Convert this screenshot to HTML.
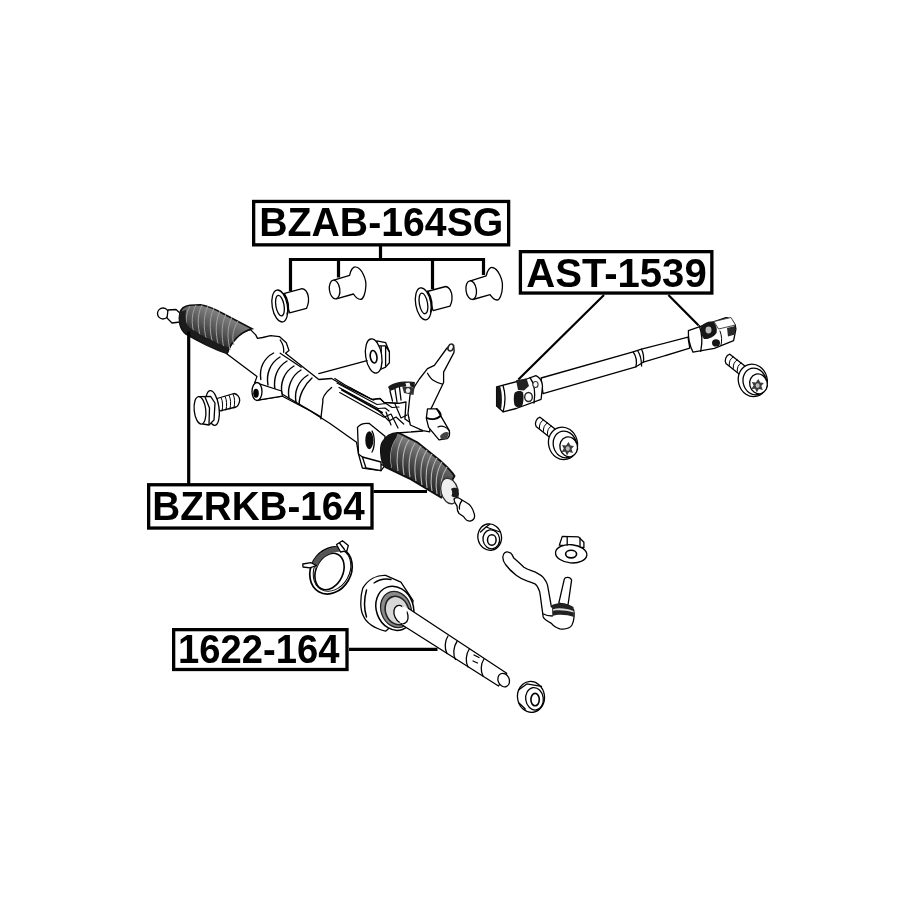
<!DOCTYPE html>
<html><head><meta charset="utf-8">
<style>
html,body{margin:0;padding:0;background:#fff;width:915px;height:915px;overflow:hidden}
svg{display:block}
.t{font-family:"Liberation Sans",sans-serif;font-weight:bold;font-size:41px;fill:#000}
.bx{fill:#fff;stroke:#000;stroke-width:3.3}
.ld{fill:none;stroke:#000;stroke-width:3.2}
.ln{fill:none;stroke:#000;stroke-width:2.2}
.o{fill:#fff;stroke:#000;stroke-width:1.3;stroke-linejoin:round;stroke-linecap:round}
.n{fill:none;stroke:#000;stroke-width:1.3;stroke-linejoin:round;stroke-linecap:round}
.g{fill:none;stroke:#000;stroke-width:1;stroke-linecap:round}
.dk{fill:#333;stroke:#000;stroke-width:1.5}
</style></head>
<body>
<svg width="915" height="915" viewBox="0 0 915 915">
<!-- PARTS -->
<defs><filter id="soft" x="-5%" y="-5%" width="110%" height="110%"><feGaussianBlur stdDeviation="0.35"/></filter></defs>
<g id="parts" filter="url(#soft)">
<!-- bushings -->
<defs>
 <g id="bf">
  <path class="o" d="M3.8,-12.3 L22.4,-17.3 C28,-16 31,-7 26.7,2.4 L9.8,6.8 Z"/>
  <ellipse class="o" cx="0" cy="0" rx="7.6" ry="16.2" transform="rotate(-10)"/>
  <path class="n" d="M4.5,-12 C8.5,-6 9.5,2 7.5,8" style="stroke-width:1.8"/>
  <ellipse class="n" cx="0.2" cy="-0.3" rx="4.1" ry="10.4" transform="rotate(-10)"/>
 </g>
 <g id="bb">
  <path class="o" d="M-0.7,-9.3 L15,-14.2 C16,-20 19,-23 21,-22.6 C27,-22 32,-10 31.2,-2.9 C31,4 28.5,10 25.8,9.9 C23,9.8 20.5,7 18.9,4.5 L1.7,9.4 Z"/>
  <ellipse class="o" cx="0" cy="0" rx="5.2" ry="9.4" transform="rotate(-8)"/>
 </g>
</defs>
<use href="#bf" x="279.8" y="306"/>
<use href="#bb" x="334.6" y="289.5"/>
<use href="#bf" x="423.3" y="303.8"/>
<use href="#bb" x="471.2" y="290.1"/>

<!-- RACK -->
<!-- left tip -->
<ellipse class="o" cx="163" cy="313.5" rx="5.5" ry="5.5"/>
<path class="o" d="M168,310 L176,309.5 L181,314 L180,322 L172,323 L167,318 Z"/>
<!-- housing main white body -->
<path class="o" d="M250.5,329.6 L255.7,334.9 L257.5,338.4 L262.7,337.5 L270.6,335.7 L279.3,336.6 L286.3,342.7 L289,350.6 L285.5,353.2 L318.8,379.5 L331.6,378.5 L346.7,387.2 L372.2,399.5 L380,398.5 L384,402.4 L398.7,403.4 L406,402 L404.9,419 L422.9,431 L397,433 L384.6,440.7 L382.3,454.4 L384.6,465.9 L381,470.7 L362.4,468 L358.5,454 L356.5,442.2 L330,423.5 L310,410.8 L282.4,396.2 L257.9,400.1 L254.9,382.4 L257,376.4 L227,354 C231,342 240,332 250.5,329.6 Z"/>
<!-- left boot -->
<path d="M180,313 C181,308 184,306 190,305.3 L200.5,304.8 C208,306.3 215,309 222,313 L252,328.7 C240,332 231,342 227,353.5 C214,349 198,341 186,334 C179,329 178.5,319 180,313 Z" fill="url(#gbL)" stroke="#111" stroke-width="1.6"/>
<g style="stroke:#a0a0a0;stroke-width:1;fill:none">
 <path d="M190,306 C184,316 186,328 190,335"/>
 <path d="M196,305 C190,316 192,330 196,338"/>
 <path d="M202,305 C196,316 198,332 202,341"/>
 <path d="M208,306 C202,318 204,334 208,344"/>
 <path d="M214,308 C208,320 210,336 214,347"/>
 <path d="M220,311 C214,323 216,340 220,350"/>
 <path d="M226,314 C220,326 222,342 225,352"/>
 <path d="M232,317 C226,329 228,341 230,350"/>
 <path d="M238,321 C232,331 232,339 234,345"/>
</g>
<path d="M180,312 C179,318 179,328 186,333 C198,341 214,349 227,353.5 L229,348 C214,342 198,334 190,328 C185,324 185,316 186,310 Z" fill="#1a1a1a"/>
<!-- mount (left) -->
<path class="n" d="M280.2,340 C283,344 284,349 283.7,352.3"/>
<path class="n" d="M280.2,353.2 L301.2,367.2"/>
<!-- bellows ribs -->
<g class="n" style="stroke-width:1.4">
 <path d="M273.6,353 C264,358 259,368 260.8,379.5"/>
 <path d="M280,357 C270,363 266,374 268,385"/>
 <path d="M287,361 C277,367 273,378 275,390"/>
 <path d="M294,366 C284,372 280,383 282,394"/>
 <path d="M301,370 C291,376 287,388 289,398"/>
 <path d="M308,375 C298,381 294,392 296,402"/>
 <path d="M312,378 C304,385 299,396 299.2,404"/>
</g>
<path class="n" d="M282.4,394.2 L320.8,416.9"/>
<!-- lug -->
<path class="o" d="M254.9,382.4 L281.5,391 L282.4,396.2 L257.9,400.1 Z"/>
<ellipse class="o" cx="257" cy="391.5" rx="5" ry="9"/>
<ellipse cx="256" cy="393.3" rx="2.8" ry="4.5" fill="#000"/>
<!-- inner cylinder edge -->
<path class="n" d="M331.6,387.4 C326,392 322,398 322.8,402.1 L320.8,418.8"/>
<!-- pinion tower -->
<path class="o" d="M451.6,344.6 C453.5,345 454.5,349 453.9,352.6 L443.6,372.1 L443.6,382.5 L433.2,404.3 L430.9,408.9 L429.8,431.8 L422.9,430.7 L410.3,425 L408,413.5 L410,395 L414.9,385.9 L419.4,379 L427.5,368.7 L434.4,365.3 L447,348 Z"/>
<path class="n" d="M427.5,373.3 C429,376 431,379 433.2,380.2 C436,382 439,383.5 442.4,384.2"/>
<ellipse cx="450.8" cy="347.5" rx="2.6" ry="3.6" transform="rotate(25 450.8 347.5)" fill="#fff" stroke="#222" stroke-width="1.6"/>
<!-- pipes -->
<g class="n" style="stroke-width:1.2">
 <path d="M334.8,378.5 L344.7,384.7 L372.2,399.5 L380,398.5 L384,402.4 L398.7,403.4"/>
 <path d="M337,383 L377,404.5 L386,403.5 L392,407.5 L399,407"/>
 <path d="M339,387.5 L378,408.5 L385,408 L389,411"/>
 <path d="M339.7,392.6 L384,417.2 L391,414 L398,428"/>
 <path d="M377,409 L389,421 L396,417 L403.7,424"/>
 <path d="M395,404 L401,418 L407,415"/>
 <path d="M386,412 L391,425"/>
</g>
<path class="n" d="M342,390 L382,412.5" style="stroke-width:2"/>
<path class="n" d="M350,387.5 L374,400.5" style="stroke-width:0.9"/>
<!-- dark bracket -->
<path d="M388,387 C392,382.5 403,380.5 414.9,382 L414.5,387.5 C408,385.5 400,386 394,389.5 L390,391 Z" fill="#1a1a1a"/>
<path d="M402,386 L414.5,387.5 L413.5,395 L404,393 Z" fill="#333"/>
<path d="M405.5,383 L409.5,382.7 L410.5,386.5 L406.5,387 Z" fill="#f4f4f4"/>
<ellipse cx="408" cy="390.5" rx="2.2" ry="2.5" fill="#eee"/>
<path class="n" d="M390,391 L392.5,401 M395,389 L397,402 M399.5,387.5 L401,400" style="stroke-width:1.3"/>
<!-- right lug on tower -->
<path class="o" d="M427.5,408.9 L436.7,408.9 L449.3,430.7 C450,434 449,437.5 447,438.7 L439,439.9 L428.6,427.3 L426.3,418.1 Z"/>
<path class="n" d="M427,418 C431,420 437,419.5 440.5,416 M436.7,408.9 C440,412 441,415 440.5,416" style="stroke-width:1.8"/>
<path class="n" d="M438,427 C442,425 447,427 449.3,430.7" style="stroke-width:1.2"/>
<path d="M440,436 C443,432 447,431 449,433 L447,438.7 L441,439.5 Z" fill="#444"/>
<!-- mount bracket right -->
<path class="o" d="M357.5,427.4 C360,424 365,423 369.3,423.5 L385,436.3 L384.6,465.9 L362.4,457 L358.5,454 Z"/>
<ellipse cx="369.3" cy="440.2" rx="4" ry="9" fill="#111"/>
<path class="n" d="M372,431 C375,436 375,447 372,452"/>
<path class="o" d="M362.4,457 L381,462 L381,470.7 L366,468 Z"/>
<!-- right boot -->
<defs>
 <linearGradient id="gbR" gradientUnits="userSpaceOnUse" x1="430" y1="448" x2="412" y2="482">
  <stop offset="0" stop-color="#858585"/><stop offset="0.5" stop-color="#505050"/><stop offset="1" stop-color="#202020"/>
 </linearGradient>
 <linearGradient id="gbL" gradientUnits="userSpaceOnUse" x1="218" y1="312" x2="204" y2="343">
  <stop offset="0" stop-color="#808080"/><stop offset="0.5" stop-color="#555"/><stop offset="1" stop-color="#202020"/>
 </linearGradient>
</defs>
<path d="M397.5,432.9 C399,433 401,434 403,435 L417.6,442.5 L439.4,460 C446,466 451,470 454.5,476 C450,484 446,492 441.2,497.6 L410.6,479.2 L385.2,467 C380,460 380,446 382.6,442 C386,436 392,433 397.5,432.9 Z" fill="url(#gbR)" stroke="#111" stroke-width="1.8"/>
<g style="stroke:#b8b8b8;stroke-width:1.1;fill:none">
 <path d="M396,438 C390,446 389,458 391.4,467.8"/>
 <path d="M403,437 C397,446 396,460 398,471"/>
 <path d="M409,440 C403,449 402,463 404,475"/>
 <path d="M415,443 C409,452 408,466 410,477"/>
 <path d="M421,446 C415,455 414,469 416,481"/>
 <path d="M427,450 C421,459 420,473 422,485"/>
 <path d="M432,454 C426,463 425,477 427,488"/>
 <path d="M437,458 C431,467 430,481 432,491"/>
 <path d="M442,462 C436,471 435,485 437,494"/>
 <path d="M447,467 C441,476 440,488 441,496"/>
</g>
<path d="M397.5,432.9 C392,433 386,436 382.6,442 C380,446 380,460 385.2,467 L391.4,467.8 C389,458 390,446 396,438 Z" fill="#151515"/>
<ellipse cx="449.5" cy="491" rx="8.5" ry="13" transform="rotate(-15 449.5 491)" fill="#f0f0f0" stroke="#333" stroke-width="1.3"/>
<path d="M451,489 C453,487 456.5,487.5 458.4,489 L458,496.5 C456,498 453,497.5 451.5,496 C452.5,494 452.5,491 451,489 Z" fill="#1a1a1a"/>
<path class="o" d="M454,499 C456,497 459,497.5 462,500 L467,503 C470,504.5 472.5,508 474,513 C475.5,517 474,520.5 470.5,521 C468,521.5 465,519 463.5,516.5 L459,513.5 C457,511 457,508 457,506 C455.5,504 454,502 454,499 Z"/>
<path class="n" d="M462,500.5 C460,503 459,506 459.5,509"/>
<!-- washer nut center -->
<path class="o" d="M376.8,340.9 L385.6,342.6 L389.4,351.8 L389.4,362.8 L385.6,367.1 L377,371 Z"/>
<path class="n" d="M379.6,345.8 L385.6,345.8 L389.4,351.8 M381.2,346.4 L381.2,367.5 M385.6,345.8 L385.6,366"/>
<ellipse class="o" cx="373.7" cy="356" rx="8" ry="17.2" transform="rotate(-9 373.7 356)"/>
<ellipse class="n" cx="373.6" cy="356.8" rx="3.3" ry="6.3" transform="rotate(-9 373.6 356.8)" style="stroke-width:1.6"/>
<path class="n" d="M367,360.6 L318.8,373.6"/>
<!-- left bolt -->
<path class="o" d="M217,398.5 L234,393.5 C237,394 240,397 239.7,400.6 C239,404 237.5,406.5 236.1,407 L219,411.2 Z"/>
<path class="g" d="M221,397.5 C223,401 223,407 222,411 M225,396.3 C227,400 227,405 226,410 M229,395.2 C231,399 231,404 230,409 M233,394 C235,398 235,403 234,408"/>
<ellipse class="o" cx="212.5" cy="408" rx="6.5" ry="17.5" transform="rotate(-8 212.5 408)"/>
<path class="o" d="M199.2,396.7 L210.6,396.3 L215,403 L214,420 L209,425 L202.8,424 Z"/>
<ellipse class="o" cx="200" cy="410.3" rx="5.8" ry="13.8" transform="rotate(-6 200 410.3)"/>
<path class="n" d="M205,397 L209.5,408 L209,424"/>
<!-- steering shaft -->
<path class="o" d="M541.1,378 L633.1,351.9 L641.5,349.2 L688,337.1 L689.8,348.2 L643.3,362.2 L635.9,366.8 L543,393.7 Z"/>
<path class="n" d="M633.1,351.9 C636,356 637,362 635.9,366.8 M637.8,351 C640.5,355 641.5,361 641.6,366 M641.5,349.2 C643.5,353 644,358 643.3,362.2"/>
<!-- right U-joint -->
<path class="o" d="M688.4,330.7 L725.9,317.7 C731,318 735.5,323 735.9,329.1 L733.6,340.6 L714.4,348.3 L693,352.1 C690,346 688,338 688.4,330.7 Z"/>
<path class="n" d="M699.1,325.3 C702,333 702.5,343 700.7,351.3"/>
<path d="M700.5,327 C703,323 709,321 713,321.5 C716,324 717.5,329 716.5,333 C714,337 708,339.5 704,339 C701.5,336 700,331 700.5,327 Z" fill="#151515"/>
<ellipse cx="708.5" cy="330" rx="3" ry="3.4" fill="#bbb"/>
<path d="M714,321.5 L731,317.5 L735.5,325 L718.5,329 Z" fill="#fff" stroke="#333" stroke-width="0.9"/>
<path d="M727,328 L735.3,326 L735,334.5 L728,336.5 Z" fill="#2a2a2a"/>
<ellipse cx="716" cy="342.9" rx="4" ry="3.6" fill="#151515"/>
<path class="g" d="M720,331 C722,336 722,341 721,345"/>
<!-- left U-joint -->
<path class="o" d="M496.6,386.9 L526.7,379 L535.9,375.7 C539,377 542,381 542.5,386.2 L541.1,399.3 L516.2,408.5 L503.1,411.8 L496.6,405.9 Z"/>
<path d="M496.6,387 L500,386 C502,392 502.5,401 501,409.5 L496.6,405.9 Z" fill="#151515"/>
<path class="n" d="M503,385.5 C505.5,393 505.5,403 503.1,411.8"/>
<path d="M514.5,393 C517,390.5 521,390.5 523,392.5 C524,397 523.5,403 522,406 C519,408 516,407.5 514.5,405 C513.5,401 513.5,396 514.5,393 Z" fill="#151515"/>
<path d="M516,380 L526.7,379 L529,386 L524,390.5 L518,390 Z" fill="#222"/>
<ellipse cx="528.5" cy="397" rx="3.8" ry="4.5" fill="#fff" stroke="#222" stroke-width="1.4"/>
<path class="n" d="M530,377.5 C534,383 535.5,393 534,403"/>
<ellipse cx="535.5" cy="384.5" rx="2.6" ry="3" fill="#fff" stroke="#333" stroke-width="1.1"/>
<!-- torx bolts -->
<defs>
 <g id="tb">
  <path class="o" d="M-23,-26.2 L-7.9,-14.4 L-13.1,-5.9 L-26.9,-17 C-28.5,-20 -27,-25 -23,-26.2 Z"/>
  <path class="g" d="M-19.5,-23.5 C-22.5,-22 -24,-18.5 -23.5,-15 M-15.5,-20.5 C-18.5,-19 -20,-15.5 -19.5,-12 M-11.5,-17.5 C-14.5,-16 -16,-12.5 -15.5,-9"/>
  <ellipse class="o" cx="0" cy="0" rx="14.4" ry="16.4" transform="rotate(-15)"/>
  <ellipse class="n" cx="1.5" cy="1.5" rx="11.5" ry="13.5" transform="rotate(-15)"/>
  <ellipse class="o" cx="4.6" cy="4.8" rx="8.8" ry="10" transform="rotate(-15)"/>
  <path d="M5.5,-1.5 L7.5,2 L11,2.5 L8.5,5.5 L10,9.5 L6,8.5 L4,12 L2.3,8.3 L-1.5,8.5 L0.8,5.2 L-1,1.5 L3,2 Z" fill="#3a3a3a"/>
  <ellipse cx="4.8" cy="5.2" rx="2" ry="2.3" fill="#bbb"/>
 </g>
</defs>
<use href="#tb" x="752.8" y="380.4"/>
<use href="#tb" x="563" y="443.4"/>
<!-- clamp -->
<ellipse class="n" cx="331" cy="570.5" rx="20" ry="24.5" transform="rotate(30 331 570.5)" style="stroke-width:1.7"/>
<ellipse class="n" cx="332" cy="570" rx="17.5" ry="22.3" transform="rotate(30 332 570)" style="stroke-width:1"/>
<ellipse class="n" cx="329.5" cy="571.5" rx="13.5" ry="19" transform="rotate(25 329.5 571.5)" style="stroke-width:1.6"/>
<path d="M311.5,566 C314,556 324,548 338,546.5 L340,551.5 C327,552.5 319,559 317,568 Z" fill="#555"/>
<path class="o" d="M336.5,544.5 L342.5,540.7 L348.3,545.5 L347,550.6 L340.5,552 Z"/>
<path class="n" d="M339.5,543 L344.5,549.5"/>
<path class="o" d="M302.8,564 L311,562.7 L316.3,565.5 L310,567.8 L303,567 Z"/>
<!-- inner tie rod -->
<path class="o" d="M362.7,588.4 C368,579 377,575 385.6,575.4 L400.9,582.2 L413.1,600.6 L411.6,608.3 L385.6,631.2 C374,628 366,622 363.4,615.9 C360,610 360,597 362.7,588.4 Z"/>
<path class="n" d="M366.5,590 C364,599 364,609 366.5,617" style="stroke-width:1.5"/>
<path class="n" d="M374,583 C379,579.5 386,578.5 391,579.5"/>
<ellipse class="o" cx="394.8" cy="608.3" rx="18.5" ry="22.5" transform="rotate(-20 394.8 608.3)" style="stroke-width:1.5"/>
<ellipse cx="396" cy="609.5" rx="15" ry="18.5" transform="rotate(-20 396 609.5)" fill="#8a8a8a" stroke="#222" stroke-width="1.3"/>
<ellipse cx="397" cy="610.5" rx="11.5" ry="14.5" transform="rotate(-20 397 610.5)" fill="#d8d8d8" stroke="#222" stroke-width="1.6"/>
<path class="o" d="M407,607.5 L506.7,673.3 L498.5,686 L401.5,624.5 Z"/>
<ellipse class="o" cx="401" cy="614.5" rx="6.5" ry="9.5" transform="rotate(-25 401 614.5)"/>
<path d="M402,606 L408,607.8 L403,623.5 L399.5,622.5 C403,617 403.5,611 402,606 Z" fill="#fff"/>
<ellipse class="o" cx="503.7" cy="680.1" rx="5.6" ry="7" transform="rotate(-25 503.7 680.1)"/>
<path class="n" d="M448,636 C444.5,641 444.5,649 447,653.5 M457,641.5 C453,647 453,655 455.5,659.5 M469.3,649 C465.5,654.5 465.5,662 468,667 M484,659 C480.5,664 480.5,671 483,676 M474,655 L479,657.5 M473,661 L477.5,663"/>
<!-- nut 1 -->
<ellipse class="o" cx="489.7" cy="537.1" rx="11.8" ry="13.3" transform="rotate(-10 489.7 537.1)"/>
<ellipse class="n" cx="491.3" cy="539.3" rx="8.3" ry="9.5" transform="rotate(-10 491.3 539.3)"/>
<path class="n" d="M480.5,532 L486,527 L489.5,524.5 M486,527 L493,529.5 L500,532"/>
<ellipse class="n" cx="491.8" cy="540" rx="4.3" ry="5.2" style="stroke-width:1.5"/>
<!-- flange nut -->
<path class="o" d="M559.3,545.2 L562.3,536.4 L578.5,536.9 L583.9,542.3 L583.9,547.7 Z"/>
<ellipse class="o" cx="571.2" cy="553.8" rx="15.7" ry="9.1" transform="rotate(5 571.2 553.8)"/>
<path class="n" d="M567.2,537 L567.2,545 M580,538 L580,546"/>
<ellipse class="n" cx="571.1" cy="554.1" rx="5.5" ry="3.8" style="stroke-width:1.6"/>
<!-- tie rod end -->
<path class="o" d="M502.8,557.2 C503,553 506,551.5 508.3,552.1 C510,552.5 511.5,553.5 511.9,554.4 L513.8,558.1 C516,560 520,563.5 523.9,567.3 C528,570 533,571 536.7,572.8 C540,574.5 542,576 543.2,577.4 C546,581 547.5,584 547.8,586.6 L551.4,606.8 L573.5,609.5 C574.5,613 574.5,620 572,625 C570,628 565,629.5 559.7,628.8 C556,627.5 553,625.5 551.4,623.3 C547,621 544,619 543.2,616.9 L541.3,603.1 C540.5,597 540,593 539.5,591.2 C538,587 536.5,585 534.9,583.8 C532,582.5 530,581.8 527.5,581.1 C523,579.5 519,577.5 516.5,575.5 C512,572 508,568 505.5,564.5 C503.5,561.5 502.8,559 502.8,557.2 Z"/>
<path class="o" d="M558.8,603.1 L564.3,579.2 C565,577 570,576.5 571.6,580.1 L568,605 Z"/>
<path d="M552,605 C558,602 568,603 573.5,607 L573.8,617 C567,614.5 558,614 552.3,616 Z" fill="#222"/>
<path d="M553,609.2 C559,607.5 567,608.5 573.5,611 L573.5,612.6 C567,610.5 559,609.8 553,610.8 Z" fill="#ddd"/>
<path class="n" d="M543.5,614 C546,615.5 549,616 552.3,616"/>
<!-- bottom nut -->
<ellipse class="o" cx="531" cy="696.9" rx="13.5" ry="15.5" transform="rotate(-8 531 696.9)"/>
<path class="n" d="M526.8,683.9 L541.5,686.3 M518.5,690 L526.8,683.9 M519,703 L525.3,709"/>
<ellipse class="n" cx="534.5" cy="698.8" rx="8.8" ry="11.3" transform="rotate(-8 534.5 698.8)"/>
<ellipse class="n" cx="535.1" cy="699.6" rx="4.2" ry="6.2" style="stroke-width:1.6"/>
</g>
<!-- LEADERS -->
<g id="leaders">
  <path class="ld" d="M380.5,246 V259.5 M289,259.5 H485 M290.5,258 V291 M338.5,258 V277.5 M432.5,258 V289 M483.5,258 V275"/>
  <path class="ln" d="M604,295 L518.4,379.5 M668.4,295 L698.4,325.3"/>
  <path class="ld" d="M188.7,331.5 V484 M373.5,491.5 H427"/>
  <path class="ld" d="M349,649.4 H437.5"/>
</g>
<!-- LABELS -->
<g id="labels">
  <rect class="bx" x="253.65" y="201.45" width="255" height="43.4"/>
  <text class="t" x="259.3" y="236.4" textLength="244" lengthAdjust="spacingAndGlyphs">BZAB-164SG</text>
  <rect class="bx" x="520.4" y="251.65" width="191.45" height="41.4"/>
  <text class="t" x="526.2" y="286.6" textLength="180.5" lengthAdjust="spacingAndGlyphs">AST-1539</text>
  <rect class="bx" x="148.65" y="484.75" width="223.35" height="43.3"/>
  <text class="t" x="152.3" y="519.6" textLength="212.5" lengthAdjust="spacingAndGlyphs">BZRKB-164</text>
  <rect class="bx" x="173.65" y="629.65" width="173.35" height="39.85"/>
  <text class="t" x="178.1" y="663" textLength="161.5" lengthAdjust="spacingAndGlyphs">1622-164</text>
</g>
</svg>
</body></html>
